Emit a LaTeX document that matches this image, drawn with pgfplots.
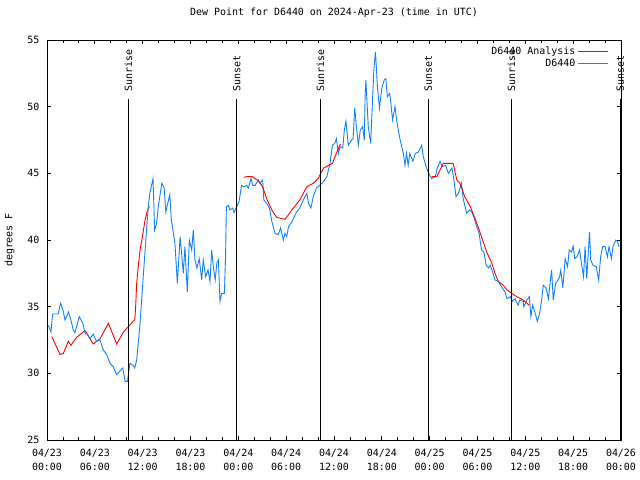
\documentclass[border=0pt]{standalone}
\usepackage{fontspec}
\setmainfont{DejaVu Sans Mono}
\usepackage{pgfplots}
\pgfplotsset{compat=1.18}
\definecolor{dpblue}{RGB}{16,128,255}
\begin{document}
\begin{tikzpicture}[font=\fontsize{10}{12}\selectfont]
\path[use as bounding box] (-47bp,-40bp) rectangle (593bp,440bp);
\begin{axis}[
  at={(0,0)}, anchor=south west,
  scale only axis, width=574bp, height=400bp,
  xmin=0, xmax=72, ymin=25, ymax=55,
  clip=false,
  axis line style={line width=0.8bp},
  every tick/.style={black, line width=0.8bp},
  tick align=inside,
  major tick length=4bp, minor tick length=3bp,
  xtick={0,6,...,72}, minor x tick num=2,
  ytick={25,30,...,55},
  xticklabels={{04/23\\00:00},{04/23\\06:00},{04/23\\12:00},{04/23\\18:00},{04/24\\00:00},{04/24\\06:00},{04/24\\12:00},{04/24\\18:00},{04/25\\00:00},{04/25\\06:00},{04/25\\12:00},{04/25\\18:00},{04/26\\00:00}},
  xticklabel style={align=center, font=\fontsize{10}{14}\selectfont, yshift=-6bp},
  yticklabel style={xshift=-4bp},
  /pgf/number format/assume math mode=true,
  title={Dew Point for D6440 on 2024-Apr-23 (time in UTC)},
  title style={at={(axis description cs:0.5,1)}, anchor=center, yshift=21bp},
  ylabel={degrees F},
  ylabel style={at={(axis description cs:-0.065,0.5)}, anchor=center},
  legend style={at={(axis description cs:0.98,0.99)}, anchor=north east, draw=none, fill=none, row sep=-1bp, inner sep=1bp},
  legend cell align=right,
  legend plot pos=right,
  legend image code/.code={\draw[#1] (0bp,0bp) -- (30bp,0bp);},
]
\addplot[red, line width=0.9bp] coordinates {(0.6,32.75)(1.0,32.25)(1.63,31.4)(2.05,31.5)(2.67,32.4)(3.0,32.1)(3.7,32.7)(4.77,33.2)(5.8,32.2)(6.65,32.6)(7.7,33.75)(8.74,32.2)(9.6,33.1)(10.2,33.5)(10.8,33.9)(11.0,34.0)(11.1,34.75)(11.25,36.75)(11.45,38.0)(11.67,39.25)(11.9,40.0)(12.1,40.75)(12.3,41.5)(12.5,42.0)(12.83,42.55)};
\addlegendentry{D6440 Analysis}
\addplot[dpblue, line width=0.9bp] coordinates {(0.1,33.6)(0.2,33.55)(0.5,33.1)(0.7,34.45)(1.4,34.45)(1.7,35.25)(2.0,34.75)(2.26,34.0)(2.7,34.6)(3.0,34.0)(3.3,33.25)(3.5,33.05)(4.05,34.25)(4.5,33.75)(4.8,32.95)(5.0,33.0)(5.4,32.6)(5.8,32.95)(6.2,32.4)(6.65,32.5)(7.06,31.75)(7.5,31.4)(7.9,30.75)(8.3,30.5)(8.74,29.9)(9.5,30.4)(9.8,29.4)(10.1,29.4)(10.4,30.75)(10.8,30.6)(11.0,30.4)(11.25,31.0)(11.45,32.25)(11.67,33.75)(11.9,35.75)(12.1,37.5)(12.4,40.0)(12.7,42.5)(12.9,43.5)(13.3,44.6)(13.5,40.75)(13.75,41.25)(13.96,42.5)(14.4,44.25)(14.7,43.9)(14.9,42.1)(15.4,43.4)(15.6,41.5)(16.05,39.75)(16.35,36.75)(16.7,40.25)(17.1,37.5)(17.3,39.5)(17.6,36.1)(17.85,40.0)(18.15,39.25)(18.35,40.75)(18.56,38.5)(18.8,37.9)(19.1,38.6)(19.4,37.0)(19.6,38.5)(19.9,37.25)(20.2,37.75)(20.45,36.9)(20.65,39.25)(20.86,38.0)(21.1,37.0)(21.3,38.25)(21.5,38.5)(21.7,35.4)(21.9,36.0)(22.25,36.0)(22.4,38.75)(22.5,42.5)(22.74,42.6)(22.95,42.25)(23.3,42.4)(23.46,42.05)(23.8,42.5)(24.1,42.9)(24.4,44.1)(24.7,44.0)(25.05,44.1)(25.25,43.9)(25.6,44.6)(25.8,44.1)(26.1,44.1)(26.5,44.5)(26.7,44.25)(27.05,44.5)(27.2,43.0)(27.55,42.75)(27.9,42.4)(28.2,41.4)(28.6,40.5)(29.0,40.4)(29.3,40.9)(29.65,40.0)(29.85,40.5)(30.07,40.25)(30.3,41.0)(30.6,41.25)(30.9,41.6)(31.3,42.1)(31.7,42.4)(32.15,43.0)(32.6,43.5)(32.8,42.75)(33.1,42.4)(33.4,43.25)(33.8,43.9)(34.5,44.25)(35.1,44.75)(35.5,45.75)(35.8,47.1)(36.1,47.25)(36.3,47.6)(36.55,46.5)(36.75,47.0)(37.1,46.9)(37.3,48.25)(37.5,48.9)(37.8,47.1)(38.2,47.5)(38.4,47.6)(38.6,49.9)(38.85,48.25)(39.05,47.1)(39.3,48.25)(39.6,48.5)(39.8,47.5)(39.9,50.75)(40.0,52.0)(40.3,48.5)(40.6,47.25)(40.85,50.75)(41.0,52.75)(41.2,54.1)(41.45,51.5)(41.7,49.9)(42.0,51.4)(42.3,52.0)(42.5,52.1)(42.7,50.75)(43.0,51.0)(43.35,49.0)(43.65,50.0)(43.85,49.0)(44.07,48.25)(44.3,47.5)(44.7,46.5)(44.9,45.6)(45.1,46.5)(45.3,45.6)(45.5,46.5)(45.9,45.9)(46.2,46.5)(46.6,46.6)(47.0,47.1)(47.2,46.25)(47.5,45.6)(47.8,45.1)(48.25,44.6)(48.7,44.75)(48.96,45.4)(49.3,45.9)(49.6,45.5)(50.0,45.6)(50.35,45.0)(50.8,45.4)(51.05,44.5)(51.3,43.25)(51.6,43.5)(52.0,44.25)(52.2,43.1)(52.65,42.0)(53.0,42.25)(53.3,42.1)(53.6,41.6)(53.9,41.0)(54.2,40.5)(54.5,39.25)(54.8,39.1)(55.1,38.1)(55.4,37.9)(55.6,38.1)(55.9,37.6)(56.2,37.0)(56.6,36.9)(57.0,36.5)(57.45,36.1)(57.7,35.6)(58.1,35.75)(58.4,35.4)(58.7,35.6)(59.1,35.1)(59.3,35.5)(59.75,35.4)(59.8,35.0)(60.2,35.5)(60.5,35.75)(60.7,34.25)(60.9,35.1)(61.2,34.6)(61.5,33.9)(61.75,34.4)(62.05,35.5)(62.25,36.6)(62.6,36.4)(62.9,35.6)(63.1,36.75)(63.3,37.75)(63.5,35.5)(63.8,36.75)(64.0,36.9)(64.3,37.25)(64.45,37.75)(64.7,36.4)(65.0,38.6)(65.3,38.0)(65.5,39.25)(65.8,39.1)(66.0,39.55)(66.2,38.6)(66.5,38.75)(66.8,39.25)(67.1,38.0)(67.3,37.25)(67.5,39.5)(67.7,37.1)(68.05,40.6)(68.2,38.5)(68.5,38.1)(68.9,38.0)(69.2,37.0)(69.45,38.75)(69.7,39.5)(70.0,39.5)(70.3,38.75)(70.5,39.5)(70.8,38.6)(71.0,39.5)(71.35,40.0)(71.56,39.9)(71.75,39.5)};
\addlegendentry{D6440}
\addplot[red, line width=0.9bp, forget plot] coordinates {(24.7,44.7)(25.05,44.75)(25.75,44.75)(26.5,44.45)(27.05,44.0)(27.55,43.1)(28.2,42.25)(28.8,41.7)(29.85,41.55)(30.3,41.9)(30.9,42.4)(31.7,43.0)(32.6,44.0)(33.4,44.25)(34.0,44.6)(34.25,44.9)(34.7,45.4)(35.3,45.6)(35.8,45.75)(36.3,46.5)(36.8,47.2)};
\addplot[red, line width=0.9bp, forget plot] coordinates {(48.25,44.75)(48.9,44.75)(49.7,45.75)(50.95,45.75)(51.4,44.5)(51.8,44.25)(52.4,43.25)(53.1,42.5)(53.7,41.6)(54.3,40.6)(54.7,39.9)(55.15,39.1)(55.8,38.25)(56.2,37.5)(56.6,36.9)(57.25,36.6)(57.7,36.25)(58.3,36.0)(58.9,35.75)(59.75,35.5)(60.5,35.1)};
\addplot[black, line width=0.8bp, forget plot] coordinates {(10.2,25)(10.2,50.55)};
\addplot[black, line width=0.8bp, forget plot] coordinates {(23.8,25)(23.8,50.55)};
\addplot[black, line width=0.8bp, forget plot] coordinates {(34.3,25)(34.3,50.55)};
\addplot[black, line width=0.8bp, forget plot] coordinates {(47.83,25)(47.83,50.55)};
\addplot[black, line width=0.8bp, forget plot] coordinates {(58.25,25)(58.25,50.55)};
\addplot[black, line width=0.8bp, forget plot] coordinates {(71.9,25)(71.9,50.55)};
\node[rotate=90, anchor=west, inner sep=0pt] at (axis cs:10.2,51.1) {Sunrise};
\node[rotate=90, anchor=west, inner sep=0pt] at (axis cs:23.8,51.1) {Sunset};
\node[rotate=90, anchor=west, inner sep=0pt] at (axis cs:34.3,51.1) {Sunrise};
\node[rotate=90, anchor=west, inner sep=0pt] at (axis cs:47.83,51.1) {Sunset};
\node[rotate=90, anchor=west, inner sep=0pt] at (axis cs:58.25,51.1) {Sunrise};
\node[rotate=90, anchor=west, inner sep=0pt] at (axis cs:71.9,51.1) {Sunset};
\end{axis}
\end{tikzpicture}
\end{document}
